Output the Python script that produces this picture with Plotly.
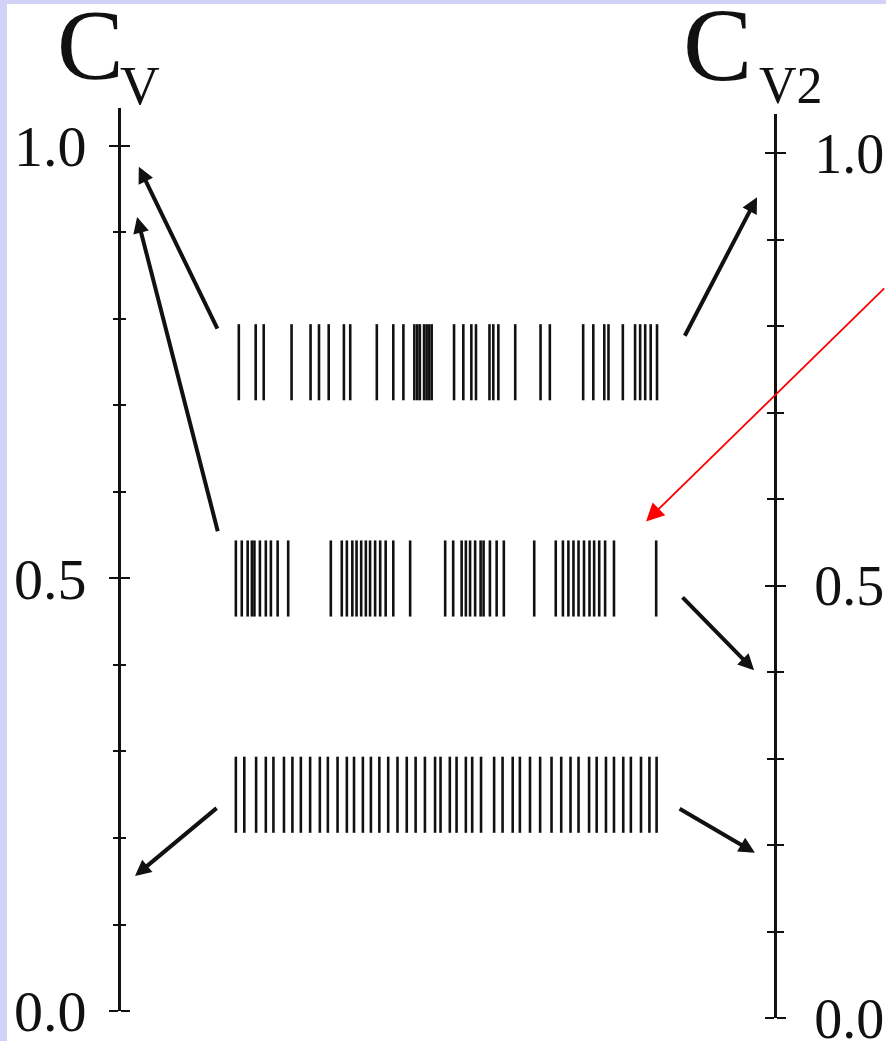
import plotly.graph_objects as go

# Spike times (ms) of the three trains, plotted at the CV level of each train
train_cv = [0.75, 0.50, 0.25]
train_halfheight = 0.044

spikes_high = [9, 49, 68, 134, 179, 199, 222, 258, 273, 336, 375, 399, 425, 432,
               438, 448, 454, 460, 466, 519, 541, 560, 571, 603, 612, 624, 664,
               724, 746, 825, 849, 875, 885, 919, 948, 960, 972, 985, 1000]
spikes_burst = [2, 16, 30, 40, 46, 59, 73, 85, 101, 126, 227, 253, 265, 278, 288,
                299, 310, 320, 332, 344, 357, 375, 415, 498, 517, 537, 547, 557,
                569, 582, 589, 604, 620, 637, 709, 760, 777, 790, 802, 814, 827,
                840, 851, 863, 877, 898, 998]
spikes_regular = [2, 22, 50, 73, 91, 116, 136, 156, 178, 201, 220, 243, 265, 282,
                  303, 322, 342, 363, 385, 407, 428, 450, 474, 487, 509, 525, 547,
                  562, 583, 614, 634, 658, 675, 699, 723, 750, 773, 795, 814, 839,
                  857, 879, 898, 920, 938, 962, 982, 999]
trains = [spikes_high, spikes_burst, spikes_regular]

# Values each train maps to on the C_V (left) and C_V2 (right) scales
cv_left = [0.976, 0.918, 0.156]
cv_right = [0.949, 0.402, 0.191]
# Where each arrow leaves its train (C_V units for left, C_V2 units for right)
tail_left = [0.787, 0.553, 0.236]
tail_right = [0.787, 0.488, 0.243]
tail_t_left = -40
tail_t_right = [1064, 1057, 1050]
head_t_left = [-228, -232, -237]
head_t_right = [1237, 1230, 1232]

# Highlighted spike (red pointer)
red_target = (974, 0.566)
red_tail = (1542, 0.837)

tick_labels = ["0.0", "0.5", "1.0"]

SERIF = "Liberation Serif"
INK = "#111111"
LAVENDER = "#d2d2f8"

fig = go.Figure()

for cv, spikes in zip(train_cv, trains):
    xs, ys = [], []
    for t in spikes:
        xs += [t, t, None]
        ys += [cv - train_halfheight, cv + train_halfheight, None]
    fig.add_trace(go.Scatter(x=xs, y=ys, mode="lines",
                             line=dict(color=INK, width=2.6),
                             hoverinfo="skip", showlegend=False))

# placeholder traces so that every axis gets drawn
for ya in ["y2", "y3", "y4"]:
    fig.add_trace(go.Scatter(x=[0], y=[0.5], yaxis=ya, mode="markers",
                             marker=dict(opacity=0), showlegend=False,
                             hoverinfo="skip"))

arrow = dict(showarrow=True, arrowhead=2, arrowsize=0.8, arrowwidth=4,
             arrowcolor=INK, text="", standoff=0, startstandoff=0)
for i in range(3):
    fig.add_annotation(x=head_t_left[i], y=cv_left[i], xref="x", yref="y",
                       ax=tail_t_left, ay=tail_left[i], axref="x", ayref="y", **arrow)
    fig.add_annotation(x=head_t_right[i], y=cv_right[i], xref="x", yref="y2",
                       ax=tail_t_right[i], ay=tail_right[i], axref="x", ayref="y2",
                       **arrow)

fig.add_annotation(x=red_target[0], y=red_target[1], xref="x", yref="y",
                   ax=red_tail[0], ay=red_tail[1], axref="x", ayref="y",
                   showarrow=True, arrowhead=2, arrowsize=2.0, arrowwidth=1.8,
                   arrowcolor="#ff0000", text="", standoff=0)

# Axis titles C_V and C_V2
title_font = dict(family=SERIF, color=INK)
fig.add_annotation(x=0.0621, y=1.0125, xref="paper", yref="paper", text="C",
                   showarrow=False, xanchor="left", yanchor="top",
                   font=dict(title_font, size=100))
fig.add_annotation(x=0.1332, y=0.9495, xref="paper", yref="paper", text="V",
                   showarrow=False, xanchor="left", yanchor="top",
                   font=dict(title_font, size=55))
fig.add_annotation(x=0.7686, y=1.0144, xref="paper", yref="paper", text="C",
                   showarrow=False, xanchor="left", yanchor="top",
                   font=dict(title_font, size=104))
fig.add_annotation(x=0.8544, y=0.9476, xref="paper", yref="paper", text="V2",
                   showarrow=False, xanchor="left", yanchor="top",
                   font=dict(title_font, size=52))

# lavender frame along the left and top edges of the page
fig.add_shape(type="rect", xref="paper", yref="paper", x0=0, x1=7 / 886,
              y0=0, y1=1, fillcolor=LAVENDER, line_width=0, layer="below")
fig.add_shape(type="rect", xref="paper", yref="paper", x0=0, x1=1,
              y0=1 - 4 / 1041, y1=1, fillcolor=LAVENDER, line_width=0,
              layer="below")

LEFT_POS = 119 / 886
RIGHT_POS = 775 / 886
left_range = [0, 1.0439]
right_range = [0, 1.0451]
left_domain = [30 / 1041, 933 / 1041]
right_domain = [23 / 1041, 927 / 1041]
minor_vals = [i / 10 for i in range(11)]

# each scale is drawn twice at the same position, once facing left and once
# facing right, so that the tick marks cross the axis line
common = dict(anchor="free", automargin=False, showgrid=False, zeroline=False,
              showline=True, linecolor=INK, linewidth=3, tickmode="array",
              tickvals=[0, 0.5, 1.0], ticktext=tick_labels,
              ticks="outside", tickwidth=2, tickcolor=INK, ticklen=9,
              ticklabeloverflow="allow",
              tickfont=dict(family=SERIF, size=58, color=INK))


def minor(length):
    return dict(ticks="outside", tickvals=minor_vals, ticklen=length,
                tickwidth=2, tickcolor=INK)


fig.update_layout(
    template="none",
    width=886, height=1041,
    margin=dict(l=0, r=0, t=0, b=0, autoexpand=False),
    paper_bgcolor="#ffffff",
    plot_bgcolor="rgba(0,0,0,0)",
    xaxis=dict(range=[-556.9, 1542.6], visible=False, domain=[0, 1],
               automargin=False),
    yaxis=dict(common, range=left_range, domain=left_domain, position=LEFT_POS,
               side="left", minor=minor(5), ticklabelstandoff=11),
    yaxis3=dict(common, range=left_range, overlaying="y", position=LEFT_POS,
                side="right", showticklabels=False, minor=minor(5)),
    yaxis2=dict(common, range=right_range, domain=right_domain,
                position=RIGHT_POS, side="right", minor=minor(7),
                ticklabelstandoff=17,
                tickfont=dict(family=SERIF, size=56, color=INK)),
    yaxis4=dict(common, range=right_range, overlaying="y2", position=RIGHT_POS,
                side="left", showticklabels=False, minor=minor(7)),
)

fig.write_html("out.html")
